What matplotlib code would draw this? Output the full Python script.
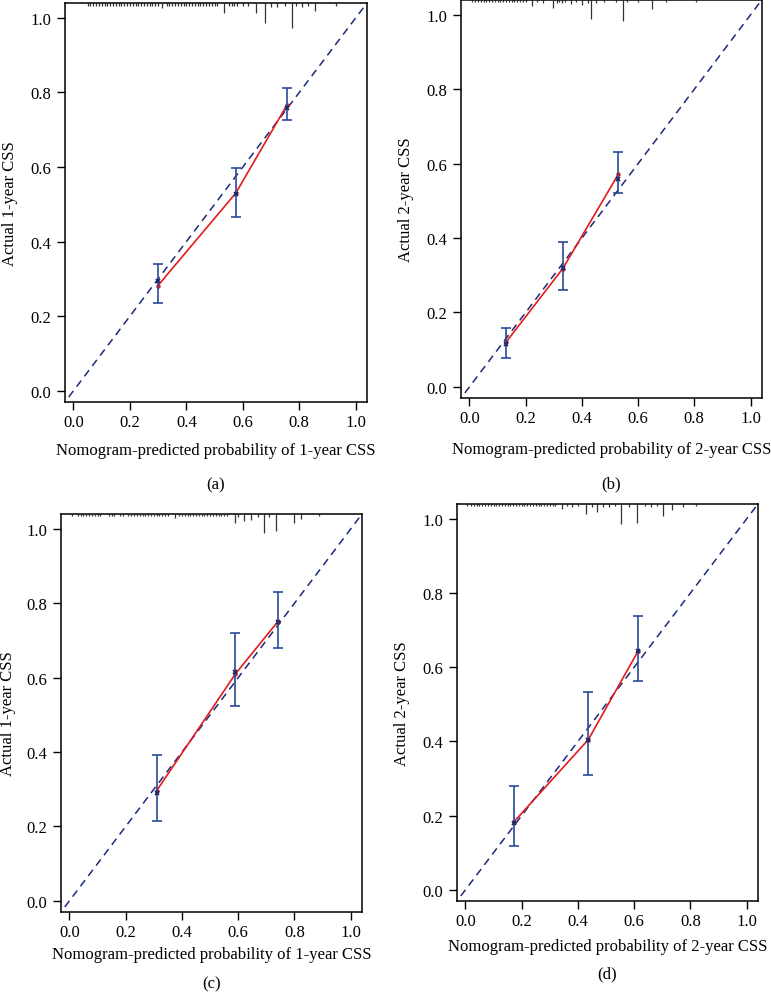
import matplotlib.pyplot as plt

plt.rcParams['font.family'] = ['Liberation Serif', 'DejaVu Serif']

# ---- panel (a): 1-year CSS, training ----
a_pred = [0.298, 0.575, 0.757]
a_obs = [0.294, 0.527, 0.758]
a_lo = [0.235, 0.465, 0.725]
a_hi = [0.339, 0.598, 0.812]
a_app = [0.281, 0.530, 0.767]
a_rug = [0.05, 0.06, 0.07, 0.08, 0.09, 0.10, 0.11, 0.12, 0.13, 0.14, 0.15, 0.16,
         0.17, 0.18, 0.19, 0.20, 0.21, 0.22, 0.23, 0.24, 0.25, 0.26, 0.27, 0.28,
         0.29, 0.30, 0.315, 0.33, 0.34, 0.35, 0.36, 0.37, 0.38, 0.39, 0.40, 0.41,
         0.42, 0.43, 0.44, 0.45, 0.46, 0.47, 0.48, 0.49, 0.50, 0.51, 0.533, 0.55,
         0.56, 0.57, 0.58, 0.60, 0.62, 0.646, 0.68, 0.70, 0.72, 0.75, 0.774, 0.79,
         0.81, 0.83, 0.855, 0.93]
a_rug_h = [0.008] * 26 + [0.014] + [0.008] * 19 + [0.028] + [0.008] * 6 + \
          [0.028, 0.055, 0.012, 0.012, 0.008, 0.068, 0.008, 0.012, 0.008, 0.022, 0.008]

# ---- panel (b): 2-year CSS, training ----
b_pred = [0.130, 0.332, 0.530]
b_obs = [0.116, 0.320, 0.560]
b_lo = [0.078, 0.260, 0.520]
b_hi = [0.158, 0.390, 0.630]
b_app = [0.120, 0.318, 0.572]
b_rug = [0.01, 0.02, 0.03, 0.04, 0.05, 0.06, 0.07, 0.08, 0.09, 0.10, 0.11, 0.12,
         0.13, 0.14, 0.15, 0.16, 0.17, 0.18, 0.19, 0.20, 0.222, 0.24, 0.26, 0.297,
         0.31, 0.32, 0.33, 0.34, 0.363, 0.38, 0.40, 0.42, 0.433, 0.45, 0.48, 0.52,
         0.545, 0.56, 0.60, 0.65, 0.70, 0.805]
b_rug_h = [0.006] * 20 + [0.016, 0.006, 0.008, 0.022, 0.008, 0.006, 0.008, 0.006,
                           0.012, 0.006, 0.014, 0.008, 0.052, 0.008, 0.006, 0.006,
                           0.056, 0.006, 0.006, 0.024, 0.006, 0.006]

# ---- panel (c): 1-year CSS, validation ----
c_pred = [0.310, 0.590, 0.740]
c_obs = [0.290, 0.615, 0.750]
c_lo = [0.215, 0.525, 0.680]
c_hi = [0.392, 0.720, 0.830]
c_app = [0.296, 0.610, 0.750]
c_rug = [0.01, 0.03, 0.04, 0.05, 0.06, 0.07, 0.08, 0.09, 0.10, 0.11, 0.14, 0.15,
         0.16, 0.18, 0.19, 0.21, 0.22, 0.23, 0.24, 0.25, 0.26, 0.27, 0.28, 0.29,
         0.30, 0.31, 0.32, 0.33, 0.34, 0.35, 0.376, 0.39, 0.40, 0.41, 0.42, 0.43,
         0.44, 0.45, 0.46, 0.47, 0.48, 0.49, 0.50, 0.51, 0.52, 0.53, 0.54, 0.55,
         0.56, 0.587, 0.60, 0.622, 0.647, 0.67, 0.692, 0.71, 0.734, 0.797, 0.822,
         0.886]
c_rug_h = [0.006] * 30 + [0.012] + [0.006] * 18 + \
          [0.024, 0.008, 0.019, 0.016, 0.008, 0.051, 0.008, 0.046, 0.024, 0.014, 0.006]

# ---- panel (d): 2-year CSS, validation ----
d_pred = [0.171, 0.437, 0.615]
d_obs = [0.179, 0.405, 0.645]
d_lo = [0.117, 0.309, 0.563]
d_hi = [0.279, 0.532, 0.737]
d_app = [0.182, 0.405, 0.645]
d_rug = [0.004, 0.02, 0.03, 0.04, 0.05, 0.06, 0.07, 0.08, 0.09, 0.10, 0.11, 0.12,
         0.13, 0.14, 0.15, 0.16, 0.17, 0.18, 0.19, 0.20, 0.21, 0.22, 0.23, 0.24,
         0.25, 0.26, 0.27, 0.28, 0.29, 0.30, 0.31, 0.32, 0.343, 0.36, 0.38, 0.40,
         0.429, 0.45, 0.469, 0.49, 0.51, 0.53, 0.553, 0.58, 0.611, 0.64, 0.66,
         0.68, 0.703, 0.736, 0.773, 0.82]
d_rug_h = [0.006] * 32 + [0.014, 0.006, 0.008, 0.006, 0.027, 0.008, 0.022, 0.008,
                           0.008, 0.006, 0.054, 0.008, 0.051, 0.006, 0.008, 0.006,
                           0.032, 0.016, 0.008, 0.006]

# tag, axes rect, data..., year, ylabel x, xlabel y, panel tag y (axes coords)
panels = [
    ('a', [0.0843, 0.595, 0.3917, 0.401], a_pred, a_obs, a_lo, a_hi, a_app, a_rug, a_rug_h, '1',
     -0.182, -0.120, -0.206),
    ('b', [0.598, 0.599, 0.390, 0.400], b_pred, b_obs, b_lo, b_hi, b_app, b_rug, b_rug_h, '2',
     -0.183, -0.128, -0.215),
    ('c', [0.0791, 0.0824, 0.3904, 0.400], c_pred, c_obs, c_lo, c_hi, c_app, c_rug, c_rug_h, '1',
     -0.176, -0.106, -0.180),
    ('d', [0.5927, 0.0935, 0.3904, 0.399], d_pred, d_obs, d_lo, d_hi, d_app, d_rug, d_rug_h, '2',
     -0.183, -0.113, -0.183),
]

fig = plt.figure(figsize=(7.71, 9.95), dpi=100)
lims = (-0.03, 1.04)
ticks = [0.0, 0.2, 0.4, 0.6, 0.8, 1.0]

for tag, rect, pred, obs, lo, hi, app, rug, rug_h, yr, ylx, xly, tagy in panels:
    ax = fig.add_axes(rect)
    ax.set_xlim(lims)
    ax.set_ylim(lims)
    # ideal line
    ax.plot([-0.1, 1.1], [-0.1, 1.1], ls=(0, (5, 3.5)), color='#1c2a7a', lw=1.1)
    # apparent calibration
    ax.plot(pred, app, color='#e41a1c', lw=1.2)
    ax.plot(pred, app, 'o', color='#e41a1c', ms=2.2)
    # bias-corrected with CI
    yerr = [[o - l for o, l in zip(obs, lo)], [h - o for o, h in zip(obs, hi)]]
    ax.errorbar(pred, obs, yerr=yerr, fmt='none', ecolor='#2a4a98', elinewidth=1.2,
                capsize=3.5, capthick=1.2)
    ax.plot(pred, obs, 'x', color='#1c2a6a', ms=3.5, mew=1.3)
    # distribution of predicted risk
    top = lims[1]
    ax.vlines(rug, [top - h for h in rug_h], top, color='#333333', lw=0.9)
    ax.set_xticks(ticks)
    ax.set_yticks(ticks)
    ax.set_xticklabels(['%.1f' % t for t in ticks])
    ax.set_yticklabels(['%.1f' % t for t in ticks])
    ax.tick_params(direction='out', length=6, width=1, labelsize=12)
    ax.tick_params(axis='x', pad=2.5)
    ax.tick_params(axis='y', pad=4)
    for s in ax.spines.values():
        s.set_linewidth(1.1)
    ax.set_xlabel('Nomogram-predicted probability of %s-year CSS' % yr, fontsize=12)
    ax.set_ylabel('Actual %s-year CSS' % yr, fontsize=12)
    ax.xaxis.set_label_coords(0.5, xly)
    ax.yaxis.set_label_coords(ylx, 0.5)
    ax.xaxis.label.set_va('center')
    ax.yaxis.label.set_va('center')
    ax.text(0.5, tagy, '(%s)' % tag, transform=ax.transAxes, ha='center',
            va='center', fontsize=12)

fig.savefig('out.png', dpi=100)
